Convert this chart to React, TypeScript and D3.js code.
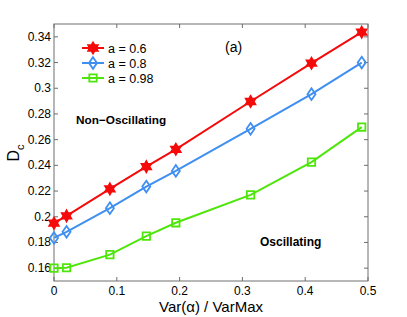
import React, { useRef, useEffect } from "react";
import { select, scaleLinear, line } from "d3";

const xVals = [0, 0.02, 0.089, 0.147, 0.194, 0.313, 0.41, 0.49];
const redVals = [0.195, 0.2007, 0.2217, 0.239, 0.2525, 0.2897, 0.3195, 0.3437];
const blueVals = [0.1835, 0.1883, 0.2067, 0.2235, 0.2357, 0.2684, 0.2954, 0.32];
const greenVals = [0.16, 0.1603, 0.1705, 0.1849, 0.1953, 0.217, 0.2425, 0.2698];
const xTicks = [0, 0.1, 0.2, 0.3, 0.4, 0.5];
const yTicks = [0.16, 0.18, 0.2, 0.22, 0.24, 0.26, 0.28, 0.3, 0.32, 0.34];
const seriesNames = ["a = 0.6", "a = 0.8", "a = 0.98"];
const colors = ["#f50a0a", "#3f8ff0", "#4ee60a"];
const markers = ["star", "diamond", "square"];

const W = 407;
const H = 317;
const M = { left: 54, right: 368, top: 24, bottom: 281 };

function starPath(r: number) {
  // six-pointed star
  const pts: string[] = [];
  for (let i = 0; i < 12; i++) {
    const a = (Math.PI / 6) * i - Math.PI / 2;
    const rr = i % 2 === 0 ? r : r * 0.58;
    pts.push(`${rr * Math.cos(a)},${rr * Math.sin(a)}`);
  }
  return "M" + pts.join("L") + "Z";
}

function markerPath(kind: string) {
  if (kind === "star") return starPath(5.5);
  if (kind === "diamond") return "M0,-5.8L4,0L0,5.8L-4,0Z";
  return "M-3.7,-3.7L3.7,-3.7L3.7,3.7L-3.7,3.7Z";
}

const App: React.FC = () => {
  const svgRef = useRef(null);

  useEffect(() => {
    const svg = select(svgRef.current);
    svg.selectAll("*").remove();
    const font = "Liberation Sans, Arial, Helvetica, sans-serif";

    const x = scaleLinear().domain([0, 0.5]).range([M.left, M.right]);
    const y = scaleLinear().domain([0.15, 0.35]).range([M.bottom, M.top]);

    const axisColor = "#6e6e6e";

    // box
    svg
      .append("rect")
      .attr("x", M.left)
      .attr("y", M.top)
      .attr("width", M.right - M.left)
      .attr("height", M.bottom - M.top)
      .attr("fill", "white")
      .attr("stroke", axisColor)
      .attr("stroke-width", 1);

    // ticks
    xTicks.forEach((t) => {
      svg.append("line").attr("x1", x(t)).attr("x2", x(t)).attr("y1", M.bottom).attr("y2", M.bottom - 4).attr("stroke", axisColor);
      svg.append("line").attr("x1", x(t)).attr("x2", x(t)).attr("y1", M.top).attr("y2", M.top + 4).attr("stroke", axisColor);
      svg
        .append("text")
        .attr("x", x(t))
        .attr("y", M.bottom + 14)
        .attr("text-anchor", "middle")
        .attr("font-family", font)
        .attr("font-size", 12)
        .text(String(t));
    });
    yTicks.forEach((t) => {
      svg.append("line").attr("x1", M.left).attr("x2", M.left + 4).attr("y1", y(t)).attr("y2", y(t)).attr("stroke", axisColor);
      svg.append("line").attr("x1", M.right).attr("x2", M.right - 4).attr("y1", y(t)).attr("y2", y(t)).attr("stroke", axisColor);
      svg
        .append("text")
        .attr("x", M.left - 3)
        .attr("y", y(t) + 4)
        .attr("text-anchor", "end")
        .attr("font-family", font)
        .attr("font-size", 12)
        .text(String(t));
    });

    // series
    const all = [redVals, blueVals, greenVals];
    const gen = line<number>()
      .x((_, i) => x(xVals[i]))
      .y((d) => y(d));
    all.forEach((vals, k) => {
      svg
        .append("path")
        .datum(vals)
        .attr("d", gen)
        .attr("fill", "none")
        .attr("stroke", colors[k])
        .attr("stroke-width", 2);
      svg
        .selectAll(null)
        .data(vals)
        .enter()
        .append("path")
        .attr("d", markerPath(markers[k]))
        .attr("transform", (d, i) => `translate(${x(xVals[i])},${y(d)})`)
        .attr("fill", markers[k] === "star" ? colors[k] : "none")
        .attr("stroke", colors[k])
        .attr("stroke-width", 1.8);
    });

    // legend
    seriesNames.forEach((name, k) => {
      const ly = 48 + k * 15;
      svg.append("line").attr("x1", 82).attr("x2", 104).attr("y1", ly).attr("y2", ly).attr("stroke", colors[k]).attr("stroke-width", 2);
      svg
        .append("path")
        .attr("d", markerPath(markers[k]))
        .attr("transform", `translate(93,${ly})`)
        .attr("fill", markers[k] === "star" ? colors[k] : "none")
        .attr("stroke", colors[k])
        .attr("stroke-width", 1.8);
      svg
        .append("text")
        .attr("x", 108)
        .attr("y", ly + 4.5)
        .attr("font-family", font)
        .attr("font-size", 12.5)
        .text(name);
    });

    // annotations
    svg.append("text").attr("x", 225).attr("y", 52).attr("font-family", font).attr("font-size", 14).text("(a)");
    svg
      .append("text")
      .attr("x", 76)
      .attr("y", 124)
      .attr("font-family", font)
      .attr("font-size", 11.8)
      .attr("font-weight", "bold")
      .text("Non\u2212Oscillating");
    svg
      .append("text")
      .attr("x", 260)
      .attr("y", 246)
      .attr("font-family", font)
      .attr("font-size", 12)
      .attr("font-weight", "bold")
      .text("Oscillating");

    // axis labels
    svg
      .append("text")
      .attr("x", (M.left + M.right) / 2)
      .attr("y", 311.5)
      .attr("text-anchor", "middle")
      .attr("font-family", font)
      .attr("font-size", 15)
      .text("Var(\u03b1) / VarMax");
    const yl = svg
      .append("text")
      .attr("transform", "translate(19,153) rotate(-90)")
      .attr("text-anchor", "middle")
      .attr("font-family", font)
      .attr("font-size", 16);
    yl.append("tspan").text("D");
    yl.append("tspan").attr("font-size", 11).attr("dy", 5).text("c");
  }, []);

  return (
    <svg
      ref={svgRef}
      width={W}
      height={H}
      style={{ position: "absolute", left: 0, top: 0, background: "white" }}
    ></svg>
  );
};

export default App;
